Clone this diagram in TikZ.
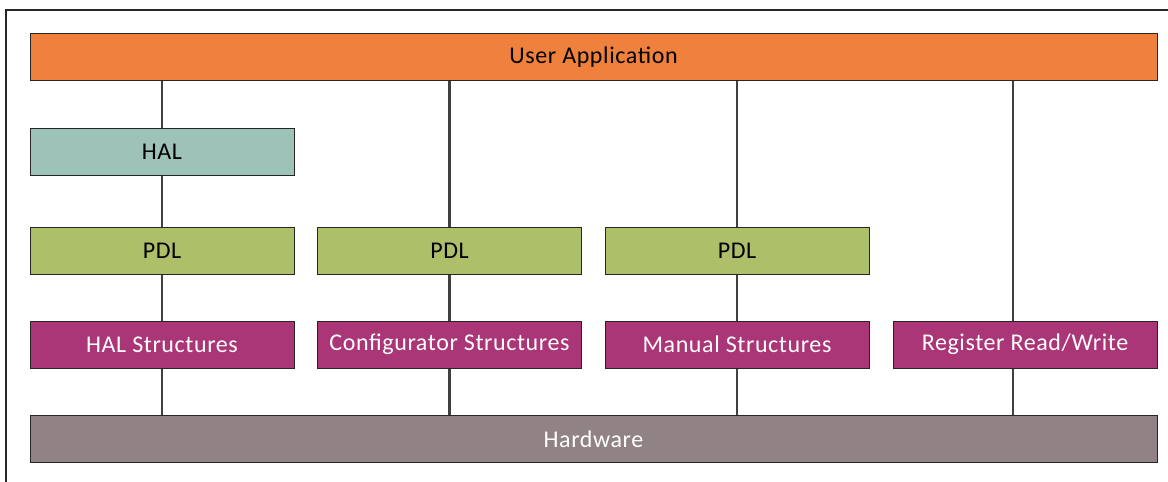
\documentclass[tikz,border=0pt]{standalone}
\usepackage{fontspec}
\setmainfont[LetterSpace=2.5]{Carlito}
\definecolor{uaorange}{HTML}{F0813D}
\definecolor{halteal}{HTML}{9DC3B8}
\definecolor{pdlgreen}{HTML}{AEBF6A}
\definecolor{structmag}{HTML}{AA3577}
\definecolor{hwgray}{HTML}{918385}
\definecolor{linegray}{HTML}{404040}
\begin{document}
\begin{tikzpicture}[x=1pt,y=-1pt,
  layerbox/.style={draw=black!85, line width=1pt, rectangle, inner sep=0pt,
    minimum height=47pt, font=\fontsize{24}{28}\selectfont},
  widebox/.style={layerbox, minimum width=1127pt},
  colbox/.style={layerbox, minimum width=264pt},
  link/.style={draw=linegray, line width=2.2pt}]
\useasboundingbox (0,0) rectangle (1168,482);
\draw[black!85, line width=1.5pt] (6,482) -- (6,10) -- (1168,10);
\node[widebox, fill=uaorange, text=black] (UA) at (593.5,57) {User Application};
\node[colbox, fill=halteal, text=black] (HAL) at (162,151.5) {HAL};
\node[colbox, fill=pdlgreen, text=black] (P1) at (162,250.5) {PDL};
\node[colbox, fill=pdlgreen, text=black] (P2) at (449.5,250.5) {PDL};
\node[colbox, fill=pdlgreen, text=black] (P3) at (737,250.5) {PDL};
\node[colbox, fill=structmag, text=white] (S1) at (162,344.7) {HAL Structures};
\node[colbox, fill=structmag, text=white] (S2) at (449.5,344.7) {Configurator Structures};
\node[colbox, fill=structmag, text=white] (S3) at (737,344.7) {Manual Structures};
\node[colbox, fill=structmag, text=white] (S4) at (1025,344.7) {Register Read/Write};
\node[widebox, fill=hwgray, text=white] (HW) at (593.5,439.3) {Hardware};
\coordinate (rx) at (1013,0);
\path[link] (UA.south -| HAL.north) -- (HAL.north);
\path[link] (HAL.south) -- (P1.north);
\path[link] (P1.south) -- (S1.north);
\path[link] (S1.south) -- (HW.north -| S1.south);
\path[link] (UA.south -| P2.north) -- (P2.north);
\path[link] (P2.south) -- (S2.north);
\path[link] (S2.south) -- (HW.north -| S2.south);
\path[link] (UA.south -| P3.north) -- (P3.north);
\path[link] (P3.south) -- (S3.north);
\path[link] (S3.south) -- (HW.north -| S3.south);
\path[link] (UA.south -| rx) -- (S4.north -| rx);
\path[link] (S4.south -| rx) -- (HW.north -| rx);
\end{tikzpicture}
\end{document}
